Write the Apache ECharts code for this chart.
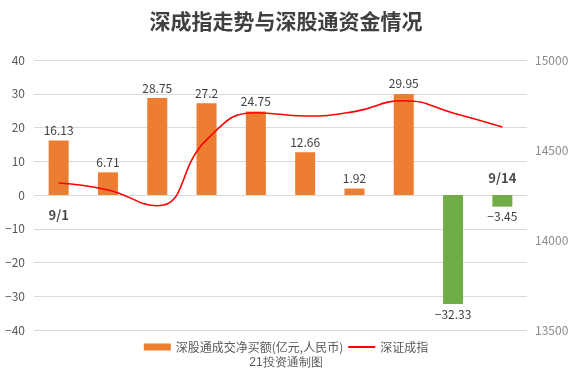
<!DOCTYPE html>
<html><head><meta charset="utf-8">
<script src="https://cdn.jsdelivr.net/npm/echarts@6/dist/echarts.min.js"></script>
<style>html,body{margin:0;padding:0;background:#fff}#c{width:572px;height:382px}</style>
</head><body><div id="c"></div>
<script>
const categories = ['9/1','9/2','9/3','9/6','9/7','9/8','9/9','9/10','9/13','9/14'];
const netBuy = [16.13, 6.71, 28.75, 27.2, 24.75, 12.66, 1.92, 29.95, -32.33, -3.45];
const szIndex = [14317, 14278, 14190, 14556, 14707, 14689, 14713, 14774, 14706, 14628];
const leftTicks = {min: -40, max: 40, interval: 10};
const rightTicks = {min: 13500, max: 15000, interval: 500};
const FONT = '"Noto Sans CJK SC", "Microsoft YaHei", sans-serif';
const minus = v => String(v).replace('-', '\u2212');

const chart = echarts.init(document.getElementById('c'));
const last = categories.length - 1;
chart.setOption({
  animation: false,
  textStyle: {fontFamily: FONT},
  title: {text: '深成指走势与深股通资金情况', left: 'center', top: 6,
    textStyle: {fontSize: 21, fontWeight: 'bold', color: '#404040', fontFamily: FONT}},
  legend: {bottom: 24, left: 'center', itemWidth: 27, itemHeight: 7, itemGap: 4,
    textStyle: {fontSize: 12, color: '#595959', fontFamily: FONT},
    data: [{name: '深股通成交净买额(亿元,人民币)', icon: 'rect'},
           {name: '深证成指', itemStyle: {opacity: 0}}]},
  graphic: [{type: 'text', left: 'center', top: 357,
    style: {text: '21投资通制图', fontSize: 12, fill: '#595959', font: '12px ' + FONT}}],
  grid: {left: 34, right: 45, top: 60, bottom: 52},
  xAxis: {type: 'category', data: categories, axisLine: {show: false}, axisTick: {show: false},
    axisLabel: {show: false}},
  yAxis: [
    {type: 'value', min: leftTicks.min, max: leftTicks.max, interval: leftTicks.interval,
     axisLine: {show: false}, axisTick: {show: false},
     axisLabel: {color: '#595959', fontSize: 12, margin: 9, formatter: v => minus(v)},
     splitLine: {lineStyle: {color: '#d9d9d9'}}},
    {type: 'value', min: rightTicks.min, max: rightTicks.max, interval: rightTicks.interval,
     axisLine: {show: false}, axisTick: {show: false},
     axisLabel: {color: '#8c8c8c', fontSize: 12, margin: 8, formatter: v => String(v)},
     splitLine: {show: false}}
  ],
  series: [
    {name: '深股通成交净买额(亿元,人民币)', type: 'bar', barWidth: 20, yAxisIndex: 0,
     itemStyle: {color: '#ED7D31'},
     data: netBuy.map(v => ({value: v, itemStyle: {color: v < 0 ? '#70AD47' : '#ED7D31'},
       label: {position: v < 0 ? 'bottom' : 'top'}})),
     label: {show: true, color: '#404040', fontSize: 12, distance: 4,
       formatter: p => minus(p.value)}},
    {name: '深证成指', type: 'line', yAxisIndex: 1, smooth: 0.5, symbol: 'none',
     lineStyle: {color: '#FF0000', width: 1.6}, itemStyle: {color: '#FF0000'},
     data: szIndex},
    {name: 'dates', type: 'scatter', yAxisIndex: 0, symbolSize: 0, silent: true,
     data: categories.map((c, i) => (i === 0 || i === last) ? {value: [c, 0],
       label: {show: true, formatter: c, position: i === 0 ? 'bottom' : 'top',
         distance: i === 0 ? 14 : 10, fontWeight: 'bold', fontSize: 13, color: '#1a1a1a'}} : null)
       .filter(d => d)}
  ]
});
</script></body></html>
